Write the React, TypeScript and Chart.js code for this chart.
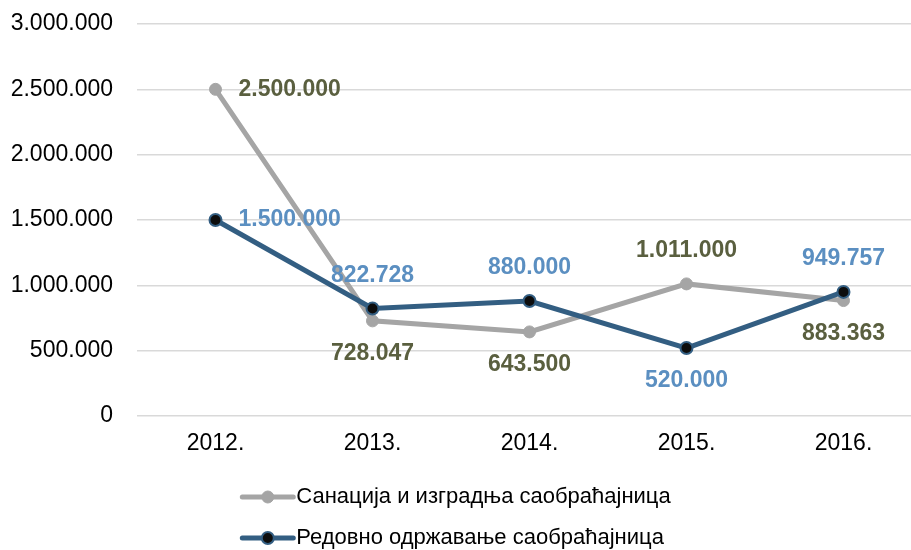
import React, { useEffect, useRef } from "react";
import { Chart, registerables } from "chart.js";

Chart.register(...registerables);

const categories = ["2012.", "2013.", "2014.", "2015.", "2016."];
const seriesNames = [
  "Санација и изградња саобраћајница",
  "Редовно одржавање саобраћајница",
];
const sanacija = [2500000, 728047, 643500, 1011000, 883363];
const odrzavanje = [1500000, 822728, 880000, 520000, 949757];
const yTicks = [0, 500000, 1000000, 1500000, 2000000, 2500000, 3000000];
const labelPositions = [
  ["right", "below", "below", "above", "below"],
  ["right", "above", "above", "below", "above"],
];

const FONT = '"Liberation Sans", Arial, sans-serif';
const lineColors = ["#a5a5a5", "#335e82"];
const labelColors = ["#5a5f3f", "#5b8fc1"];

function fmt(v: number): string {
  return String(Math.round(v)).replace(/\B(?=(\d{3})+(?!\d))/g, ".");
}

const pointLabelPlugin = {
  id: "pointLabelPlugin",
  afterDatasetsDraw(chart: any) {
    const ctx = chart.ctx;
    chart.data.datasets.forEach((ds: any, di: number) => {
      const meta = chart.getDatasetMeta(di);
      ctx.save();
      ctx.font = `bold 23px ${FONT}`;
      ctx.fillStyle = labelColors[di];
      meta.data.forEach((pt: any, i: number) => {
        const text = fmt(ds.data[i].y);
        const p = labelPositions[di][i];
        ctx.textBaseline = "middle";
        if (p === "right") {
          ctx.textAlign = "left";
          ctx.fillText(text, pt.x + 23, pt.y);
        } else if (p === "above") {
          ctx.textAlign = "center";
          ctx.fillText(text, pt.x, pt.y - 33);
        } else {
          ctx.textAlign = "center";
          ctx.fillText(text, pt.x, pt.y + 33);
        }
      });
      ctx.restore();
    });
  },
};

const legendPlugin = {
  id: "customLegend",
  afterDraw(chart: any) {
    const ctx = chart.ctx;
    const datasets = chart.data.datasets;
    ctx.save();
    ctx.font = `22px ${FONT}`;
    const symW = 55;
    const gap = 1;
    const maxText = Math.max(
      ...datasets.map((d: any) => ctx.measureText(d.label).width)
    );
    const blockW = symW + gap + maxText;
    const left = (chart.width - blockW) / 2;
    const rowYs = [497, 538];
    datasets.forEach((d: any, i: number) => {
      const y = rowYs[i];
      ctx.strokeStyle = d.borderColor;
      ctx.lineWidth = 5;
      ctx.lineCap = "round";
      ctx.beginPath();
      ctx.moveTo(left + 2, y);
      ctx.lineTo(left + symW - 2, y);
      ctx.stroke();
      ctx.beginPath();
      ctx.arc(left + symW / 2, y, 6, 0, Math.PI * 2);
      ctx.fillStyle = d.pointBackgroundColor;
      ctx.fill();
      ctx.lineWidth = d.pointBorderWidth;
      ctx.strokeStyle = d.pointBorderColor;
      ctx.stroke();
      ctx.fillStyle = "#000";
      ctx.textAlign = "left";
      ctx.textBaseline = "middle";
      ctx.fillText(d.label, left + symW + gap, y);
    });
    ctx.restore();
  },
};

export default function App() {
  const ref = useRef<HTMLCanvasElement | null>(null);

  useEffect(() => {
    if (!ref.current) return;
    const chart = new Chart(ref.current, {
      type: "line",
      data: {
        datasets: [
          {
            label: seriesNames[0],
            data: sanacija.map((v, i) => ({ x: i, y: v })),
            borderColor: lineColors[0],
            backgroundColor: lineColors[0],
            borderWidth: 5,
            pointRadius: 6,
            pointBackgroundColor: lineColors[0],
            pointBorderColor: lineColors[0],
            pointBorderWidth: 1,
            order: 1,
          },
          {
            label: seriesNames[1],
            data: odrzavanje.map((v, i) => ({ x: i, y: v })),
            borderColor: lineColors[1],
            backgroundColor: lineColors[1],
            borderWidth: 5,
            pointRadius: 6,
            pointBackgroundColor: "#0d0d0d",
            pointBorderColor: lineColors[1],
            pointBorderWidth: 2,
            order: 0,
          },
        ],
      },
      options: {
        animation: false,
        responsive: true,
        maintainAspectRatio: false,
        layout: {
          autoPadding: false,
          padding: { top: 24, left: 0, right: 0, bottom: 0 },
        },
        plugins: {
          legend: { display: false },
          tooltip: { enabled: false },
        },
        scales: {
          x: {
            type: "linear",
            min: -0.5,
            max: 4.43,
            grid: { display: false, drawTicks: false },
            border: { display: false },
            afterBuildTicks: (scale: any) => {
              scale.ticks = categories.map((_, i) => ({ value: i }));
            },
            afterFit: (scale: any) => {
              scale.height = 134;
              scale.paddingLeft = 0;
              scale.paddingRight = 0;
            },
            ticks: {
              padding: 14,
              color: "#000",
              font: { family: FONT, size: 23 },
              callback: (v: any) => categories[Number(v)] ?? "",
            },
          },
          y: {
            min: 0,
            max: 3000000,
            grid: { color: "#d9d9d9", lineWidth: 1.5, drawTicks: false },
            border: { display: false },
            afterBuildTicks: (scale: any) => {
              scale.ticks = yTicks.map((v) => ({ value: v }));
            },
            afterFit: (scale: any) => {
              scale.width = 137;
              scale.paddingTop = 0;
              scale.paddingBottom = 0;
            },
            ticks: {
              padding: 24,
              color: "#000",
              font: { family: FONT, size: 23 },
              callback: (v: any) => fmt(Number(v)),
            },
          },
        },
      },
      plugins: [pointLabelPlugin, legendPlugin],
    });
    return () => chart.destroy();
  }, []);

  return (
    <div
      style={{
        position: "fixed",
        left: 0,
        top: 0,
        width: 911,
        height: 550,
        background: "#fff",
      }}
    >
      <canvas ref={ref} />
    </div>
  );
}
